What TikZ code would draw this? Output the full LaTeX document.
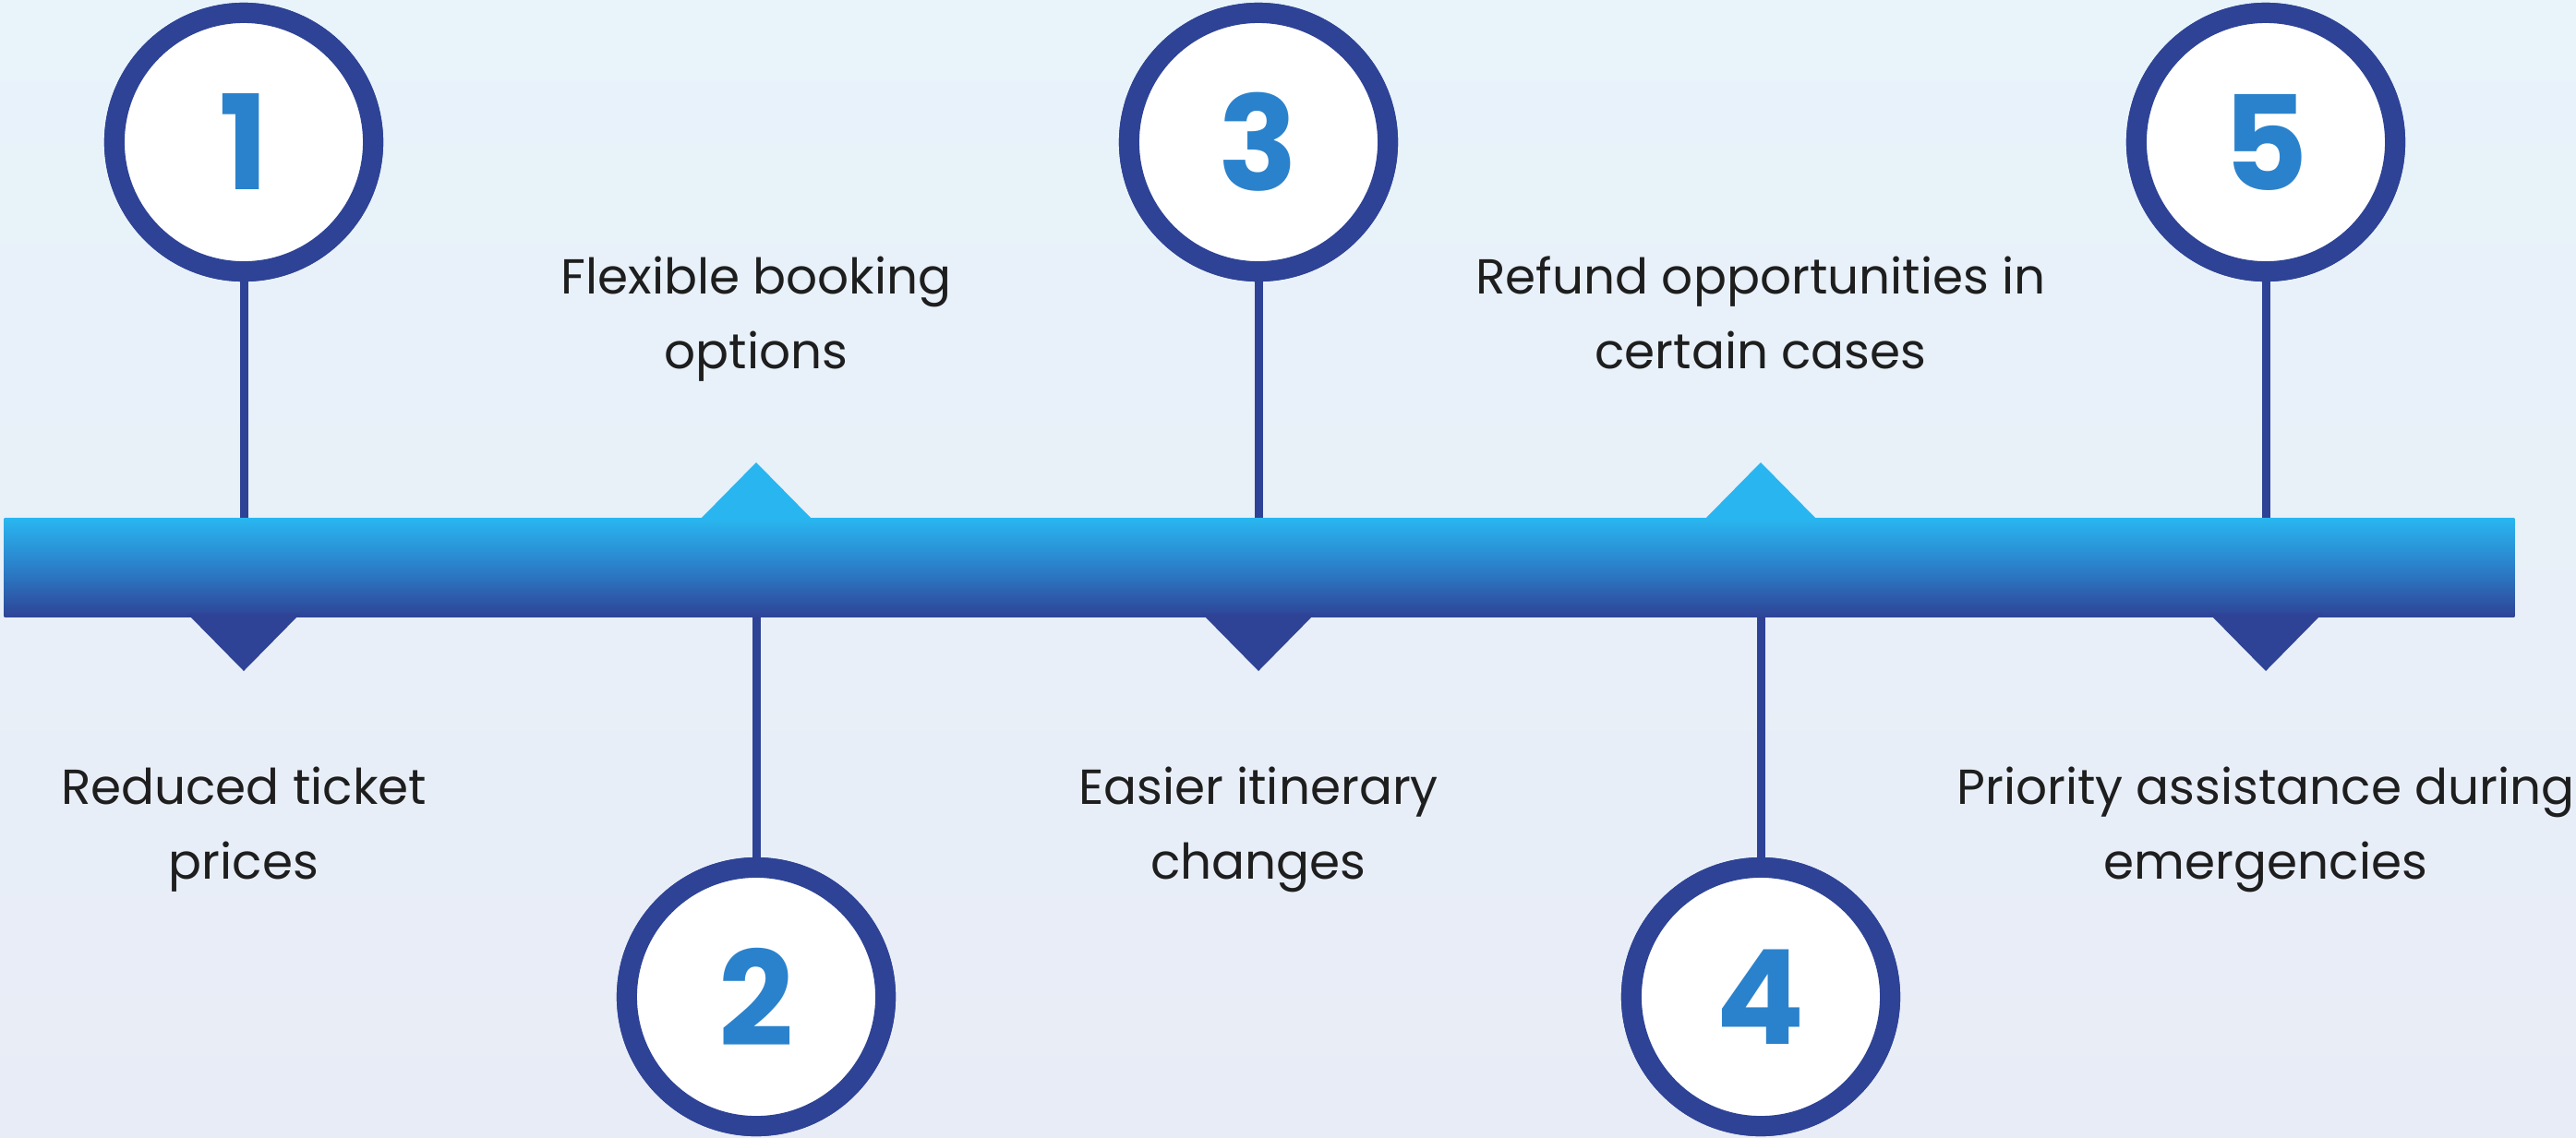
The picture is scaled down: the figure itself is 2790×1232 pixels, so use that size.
\documentclass[tikz,border=0pt]{standalone}
\usepackage{fontspec}
\setmainfont{Poppins}
\definecolor{navy}{HTML}{2E4396}
\definecolor{cyanb}{HTML}{29B6F0}
\definecolor{midb}{HTML}{2B7FC9}
\definecolor{digitc}{HTML}{2B82CC}
\definecolor{txt}{HTML}{1E1E1E}
\definecolor{bgtop}{HTML}{E8F3FA}
\definecolor{bgbot}{HTML}{E8ECF6}
\tikzset{
  ring/.style={circle, draw=navy, line width=2.2mm, fill=white, minimum size=2.8cm, inner sep=0pt},
  digit/.style={font=\fontsize{40.5}{41}\selectfont\bfseries, inner sep=0pt, text=digitc},
  label/.style={anchor=base, align=center, text=txt, font=\fontsize{15.15}{23}\selectfont},
  stem/.style={draw=navy, line width=0.9mm},
  uptri/.style={fill=cyanb},
  downtri/.style={fill=navy}
}
\begin{document}
\begin{tikzpicture}[x=0.01cm, y=-0.01cm]
\useasboundingbox (0,0) rectangle (2790,1232);
\shade[top color=bgtop, bottom color=bgbot] (0,0) rectangle (2790,1232);
% bar
\node[rectangle, minimum width=27.17cm, minimum height=1.07cm, inner sep=0pt, anchor=north west, shading=axis, top color=cyanb, bottom color=navy, middle color=midb] (bar) at (4,561) {};
% triangles
\fill[downtri] (203,665) -- (264,727) -- (325,665) -- cycle;
\fill[uptri] (758,563) -- (819,501) -- (880,563) -- cycle;
\fill[downtri] (1302,665) -- (1363,727) -- (1424,665) -- cycle;
\fill[uptri] (1846,563) -- (1907,501) -- (1968,563) -- cycle;
\fill[downtri] (2393,665) -- (2454,727) -- (2515,665) -- cycle;
% circles
\node[ring] (c1) at (264,154) {};
\node[ring] (c2) at (819,1080) {};
\node[ring] (c3) at (1363,154) {};
\node[ring] (c4) at (1907,1080) {};
\node[ring] (c5) at (2454,154) {};
% stems
\draw[stem] (c1.south) -- (c1.south |- bar.north);
\draw[stem] (c2.north) -- (c2.north |- bar.south);
\draw[stem] (c3.south) -- (c3.south |- bar.north);
\draw[stem] (c4.north) -- (c4.north |- bar.south);
\draw[stem] (c5.south) -- (c5.south |- bar.north);
% redraw circles over stems
\node[ring] at (c1) {};
\node[ring] at (c2) {};
\node[ring] at (c3) {};
\node[ring] at (c4) {};
\node[ring] at (c5) {};
% digits
\node[digit] (d1) at (c1.center) {1};
\node[digit] (d2) at (c2.center) {2};
\node[digit] (d3) at (c3.center) {3};
\node[digit] (d4) at (c4.center) {4};
\node[digit] (d5) at (c5.center) {5};
% labels
\node[label] (t1) at (264,952) {Reduced ticket\\prices};
\node[label] (t2) at (819,399) {Flexible booking\\options};
\node[label] (t3) at (1363,952) {Easier itinerary\\changes};
\node[label] (t4) at (1907,399) {Refund opportunities in\\certain cases};
\node[label] (t5) at (2454,952) {Priority assistance during\\emergencies};
\end{tikzpicture}
\end{document}
